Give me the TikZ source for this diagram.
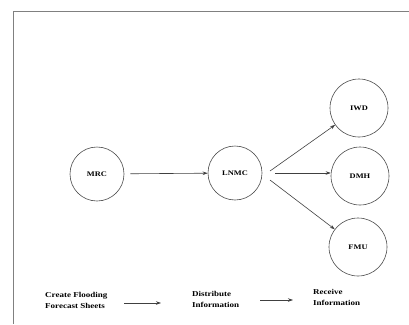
\documentclass[tikz,border=0pt]{standalone}
\usepackage{fontspec}
\setmainfont{Liberation Serif}
\newfontfamily\widefont{Liberation Serif}[FakeStretch=1.2]
\usetikzlibrary{arrows.meta}
\begin{document}
\begin{tikzpicture}[x=1pt,y=-1pt,
  circ/.style={draw=black!70,line width=0.6pt,circle,minimum size=54pt,inner sep=0pt,font=\widefont\bfseries\fontsize{7}{8}\selectfont},
  bigcirc/.style={circ,minimum size=58pt},
  conn/.style={draw=black!75,line width=0.6pt,-{Stealth[length=5pt,width=3.5pt]}},
  lab/.style={align=left,font=\widefont\bfseries\fontsize{7.5}{11}\selectfont,inner sep=0pt}]
\useasboundingbox (0,0) rectangle (409,324);
\draw[black!50,line width=0.9pt] (409,11) -- (13,11) -- (13,324);
\node[circ] (mrc) at (97,174) {MRC};
\node[circ] (lnmc) at (235,173) {LNMC};
\node[bigcirc] (iwd) at (359,108) {IWD};
\node[bigcirc] (dmh) at (360,176) {DMH};
\node[bigcirc] (fmu) at (358,247) {FMU};
\coordinate (s1) at (270,171);
\coordinate (s2) at (275,173);
\coordinate (s3) at (270,180);
\draw[conn,shorten <=6pt] (mrc) -- (lnmc);
\draw[conn] (s1) -- (iwd);
\draw[conn] (s2) -- (dmh.west |- s2);
\draw[conn] (s3) -- (fmu);
\node[lab,anchor=west] (l1) at (45,300) {Create Flooding\\Forecast Sheets};
\node[lab,anchor=west] (l2) at (192,299) {Distribute\\Information};
\node[lab,anchor=west] (l3) at (313,297) {Receive\\Information};
\coordinate (a1) at (124,303);
\coordinate (b1) at (161,303);
\coordinate (a2) at (260,300);
\coordinate (b2) at (293,300);
\draw[conn] (a1) -- (b1);
\draw[conn] (a2) -- (b2);
\end{tikzpicture}
\end{document}
